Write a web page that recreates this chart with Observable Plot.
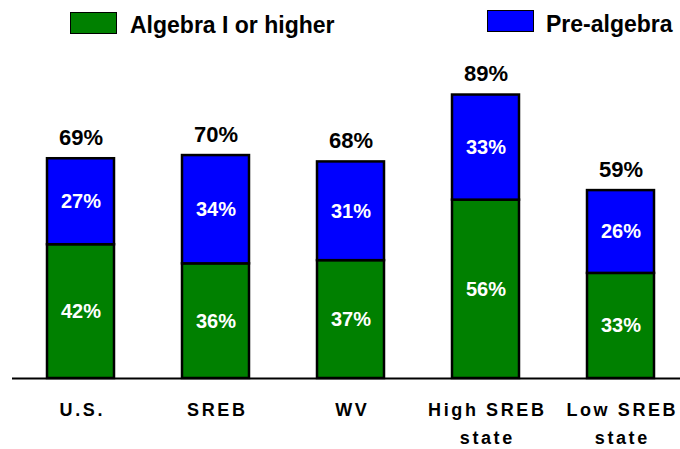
<!DOCTYPE html>
<html>
<head>
<meta charset="utf-8">
<script src="https://cdn.jsdelivr.net/npm/d3@7"></script>
<script src="https://cdn.jsdelivr.net/npm/@observablehq/plot@0.6"></script>
<style>
  html, body { margin: 0; padding: 0; background: #fff; }
  body { width: 680px; height: 449px; overflow: hidden; font-family: "Liberation Sans", Arial, sans-serif; }
  #legend { position: relative; height: 50px; width: 680px; }
  .sw { position: absolute; width: 45px; height: 20px; border: 1.5px solid #000; box-sizing: content-box; }
  .lt { position: absolute; font-size: 23px; font-weight: bold; color: #000; line-height: 1; white-space: nowrap; }
  g[aria-label="x-axis tick label"] text { letter-spacing: 2.6px; }
</style>
</head>
<body>
<div id="legend"></div>
<div id="chart"></div>
<script>
const categories = ["U.S.", "SREB", "WV", "High SREB\nstate", "Low SREB\nstate"];
const series = ["Algebra I or higher", "Pre-algebra"];
const algebraValues = [42, 36, 37, 56, 33];
const preAlgebraValues = [27, 34, 31, 33, 26];
const totals = [69, 70, 68, 89, 59];
const colors = ["#008000", "#0000FF"];

const data = [];
categories.forEach((c, i) => {
  data.push({cat: c, series: series[0], value: algebraValues[i]});
  data.push({cat: c, series: series[1], value: preAlgebraValues[i]});
});
const totalData = categories.map((c, i) => ({cat: c, total: totals[i]}));

// legend
const legend = document.getElementById("legend");
const legendItems = [
  {label: series[0], color: colors[0], sx: 70, sy: 12, tx: 130, ty: 14},
  {label: series[1], color: colors[1], sx: 487, sy: 10, tx: 546, ty: 13}
];
legendItems.forEach(d => {
  const s = document.createElement("div");
  s.className = "sw";
  s.style.left = d.sx + "px"; s.style.top = d.sy + "px"; s.style.background = d.color;
  legend.appendChild(s);
  const t = document.createElement("div");
  t.className = "lt";
  t.style.left = d.tx + "px"; t.style.top = d.ty + "px";
  t.textContent = d.label;
  legend.appendChild(t);
});

const chart = Plot.plot({
  width: 680,
  height: 399,
  marginTop: 9.5,
  marginBottom: 71,
  marginLeft: 12,
  marginRight: 0,
  style: {fontFamily: "'Liberation Sans', Arial, sans-serif", background: "#fff"},
  x: {type: "band", domain: categories, range: [46, 654], paddingInner: 0.505, paddingOuter: 0, label: null},
  y: {domain: [0, 100], axis: null},
  color: {domain: series, range: colors},
  marks: [
    Plot.barY(data, Plot.stackY({x: "cat", y: "value", fill: "series", order: series, stroke: "#000", strokeWidth: 2.5})),
    Plot.text(data, Plot.stackY({x: "cat", y: "value", z: "series", order: series, text: d => d.value + "%", fill: "#fff", fontSize: 20, fontWeight: "bold"})),
    Plot.text(totalData, {x: "cat", y: "total", text: d => d.total + "%", dy: -21, fill: "#000", fontSize: 22, fontWeight: "bold"}),
    Plot.ruleY([0], {stroke: "#000", strokeWidth: 2}),
    Plot.axisX({tickSize: 0, tickPadding: 18, fontSize: 18, fontWeight: "bold", lineHeight: 1.55, dx: 1.3, fill: "#000", label: null})
  ]
});
document.getElementById("chart").appendChild(chart);
</script>
</body>
</html>
